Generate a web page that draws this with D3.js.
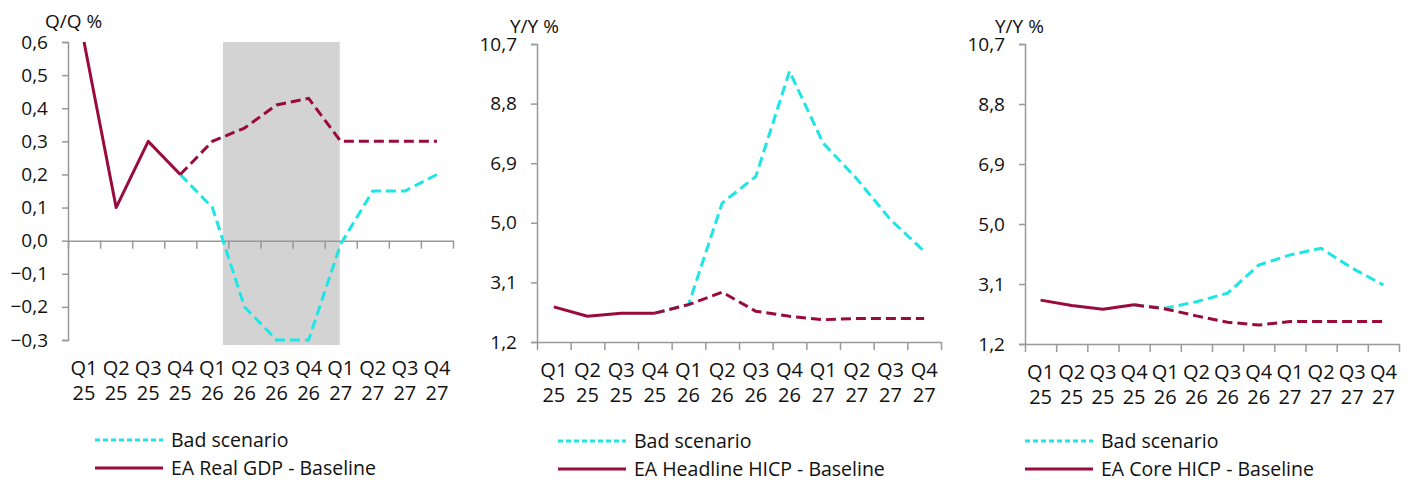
<!DOCTYPE html>
<html>
<head>
<meta charset="utf-8">
<script src="https://cdn.jsdelivr.net/npm/d3@7"></script>
<style>
  body { margin: 0; background: #fff; }
  svg { display: block; font-family: "Open Sans", Lato, sans-serif; }
</style>
</head>
<body>
<svg id="chart" width="1409" height="482"></svg>
<script>
// quarters, two-row labels
const quarters = ["Q1 25", "Q2 25", "Q3 25", "Q4 25", "Q1 26", "Q2 26", "Q3 26", "Q4 26", "Q1 27", "Q2 27", "Q3 27", "Q4 27"];

// EA real GDP, q/q %
const gdpBase = [0.6, 0.1, 0.3, 0.2, 0.3, 0.34, 0.41, 0.43, 0.3, 0.3, 0.3, 0.3];
const gdpBad = [null, null, null, 0.2, 0.1, -0.2, -0.3, -0.3, -0.01, 0.15, 0.15, 0.2];
const gdpTicks = [-0.3, -0.2, -0.1, 0.0, 0.1, 0.2, 0.3, 0.4, 0.5, 0.6];
// shaded recession window, in quarter index units (same as the points)
const gdpShade = [4.33, 7.97];

// EA headline HICP, y/y %
const hicpBase = [2.32, 2.02, 2.12, 2.12, 2.39, 2.79, 2.18, 2.02, 1.91, 1.95, 1.95, 1.95];
const hicpBad = [null, null, null, 2.12, 2.39, 5.63, 6.48, 9.83, 7.54, 6.4, 5.1, 4.09];

// EA core HICP, y/y %
const coreBase = [2.59, 2.42, 2.3, 2.44, 2.31, 2.09, 1.89, 1.8, 1.91, 1.91, 1.91, 1.91];
const coreBad = [null, null, null, 2.44, 2.33, 2.54, 2.81, 3.7, 4.02, 4.23, 3.6, 3.07];

const hicpTicks = [1.2, 3.1, 5.0, 6.9, 8.8, 10.7];

// history is solid up to this index, projection dashed from it
const lastActual = 3;

const MAROON = "#9a0a3c";
const CYAN = "#1fe6e6";
const AXIS = "#999";
const fmt = d3.format(".1f");
const comma = (v) => fmt(v).replace(".", ",").replace("-0,0", "0,0");

const panels = [
  {
    title: "Q/Q %", titleX: 45, titleY: 28,
    x0: 68, x1: 453, yTop: 42, yBot: 340,
    ticks: gdpTicks, base: gdpBase, bad: gdpBad, shade: gdpShade,
    zeroAxis: true, labelY: 375,
    legendX: 95, legendY: 440, legendName: "EA Real GDP - Baseline"
  },
  {
    title: "Y/Y %", titleX: 510, titleY: 33,
    x0: 537, x1: 941, yTop: 44, yBot: 342,
    ticks: hicpTicks, base: hicpBase, bad: hicpBad,
    labelY: 377,
    legendX: 558, legendY: 441, legendName: "EA Headline HICP - Baseline"
  },
  {
    title: "Y/Y %", titleX: 995, titleY: 33,
    x0: 1025, x1: 1399, yTop: 44, yBot: 344,
    ticks: hicpTicks, base: coreBase, bad: coreBad,
    labelY: 379,
    legendX: 1025, legendY: 441, legendName: "EA Core HICP - Baseline"
  }
];

const svg = d3.select("#chart");

panels.forEach(function (p) {
  const g = svg.append("g");

  const x = d3.scaleLinear().domain([0, quarters.length]).range([p.x0, p.x1]);
  const xc = (i) => x(i + 0.5);
  const y = d3.scaleLinear()
    .domain([d3.min(p.ticks), d3.max(p.ticks)])
    .range([p.yBot, p.yTop]);

  // shaded window
  if (p.shade) {
    g.append("rect")
      .attr("x", xc(p.shade[0]))
      .attr("y", y(d3.max(p.ticks)))
      .attr("width", xc(p.shade[1]) - xc(p.shade[0]))
      .attr("height", p.yBot + 5 - p.yTop)
      .attr("fill", "#d3d3d3");
  }

  // y axis
  const yAxis = g.append("g")
    .attr("transform", "translate(" + p.x0 + ",0)")
    .call(d3.axisLeft(y).tickValues(p.ticks).tickFormat(comma).tickSize(6).tickPadding(14));
  yAxis.select(".domain").attr("stroke", AXIS).attr("stroke-width", 1.5);
  yAxis.selectAll(".tick line").attr("stroke", AXIS).attr("stroke-width", 1.5);
  yAxis.selectAll("text")
    .attr("fill", "#111")
    .style("font-size", "19px")
    .style("font-family", "'Open Sans', sans-serif");

  // x axis, ticks on quarter boundaries
  const xAxisY = p.zeroAxis ? y(0) : p.yBot;
  const xAxis = g.append("g")
    .attr("transform", "translate(0," + xAxisY + ")")
    .call(d3.axisBottom(x).tickValues(d3.range(quarters.length + 1)).tickFormat("").tickSize(8).tickSizeOuter(0));
  xAxis.select(".domain").attr("stroke", AXIS).attr("stroke-width", 1.5);
  xAxis.selectAll(".tick line").attr("stroke", AXIS).attr("stroke-width", 1.5);

  // category labels at the bottom
  const labels = g.append("g")
    .selectAll("text")
    .data(quarters)
    .enter()
    .append("text")
    .attr("x", (d, i) => xc(i))
    .attr("y", p.labelY)
    .attr("text-anchor", "middle")
    .attr("fill", "#111")
    .style("font-size", "20px");
  labels.append("tspan").attr("x", (d, i) => xc(i)).attr("dy", 0).text((d) => d.split(" ")[0]);
  labels.append("tspan").attr("x", (d, i) => xc(i)).attr("dy", 25).text((d) => d.split(" ")[1]);

  // axis title
  g.append("text")
    .attr("x", p.titleX)
    .attr("y", p.titleY)
    .attr("fill", "#111")
    .style("font-size", "19px")
    .text(p.title);

  const line = d3.line()
    .defined((d) => d.v !== null)
    .x((d) => xc(d.i))
    .y((d) => y(d.v));

  const badPts = p.bad.map((v, i) => ({ i: i, v: v }));
  const basePts = p.base.map((v, i) => ({ i: i, v: v }));

  // bad scenario
  g.append("path")
    .datum(badPts)
    .attr("fill", "none")
    .attr("stroke", CYAN)
    .attr("stroke-width", 3)
    .attr("stroke-dasharray", "10,5")
    .attr("d", line);

  // baseline: history solid, projection dashed
  g.append("path")
    .datum(basePts.filter((d) => d.i <= lastActual))
    .attr("fill", "none")
    .attr("stroke", MAROON)
    .attr("stroke-width", 3)
    .attr("stroke-linejoin", "round")
    .attr("d", line);
  g.append("path")
    .datum(basePts.filter((d) => d.i >= lastActual))
    .attr("fill", "none")
    .attr("stroke", MAROON)
    .attr("stroke-width", 3)
    .attr("stroke-dasharray", "10,5")
    .attr("d", line);

  // legend
  const lg = g.append("g").attr("transform", "translate(" + p.legendX + "," + p.legendY + ")");
  lg.append("line")
    .attr("x1", 0).attr("x2", 68).attr("y1", 0).attr("y2", 0)
    .attr("stroke", CYAN).attr("stroke-width", 3).attr("stroke-dasharray", "5,3");
  lg.append("text")
    .attr("x", 76).attr("y", 0).attr("dy", "0.35em")
    .attr("fill", "#111").style("font-size", "19.5px")
    .text("Bad scenario");
  lg.append("line")
    .attr("x1", 0).attr("x2", 68).attr("y1", 28).attr("y2", 28)
    .attr("stroke", MAROON).attr("stroke-width", 3);
  lg.append("text")
    .attr("x", 76).attr("y", 28).attr("dy", "0.35em")
    .attr("fill", "#111").style("font-size", "19.5px")
    .text(p.legendName);
});
</script>
</body>
</html>
